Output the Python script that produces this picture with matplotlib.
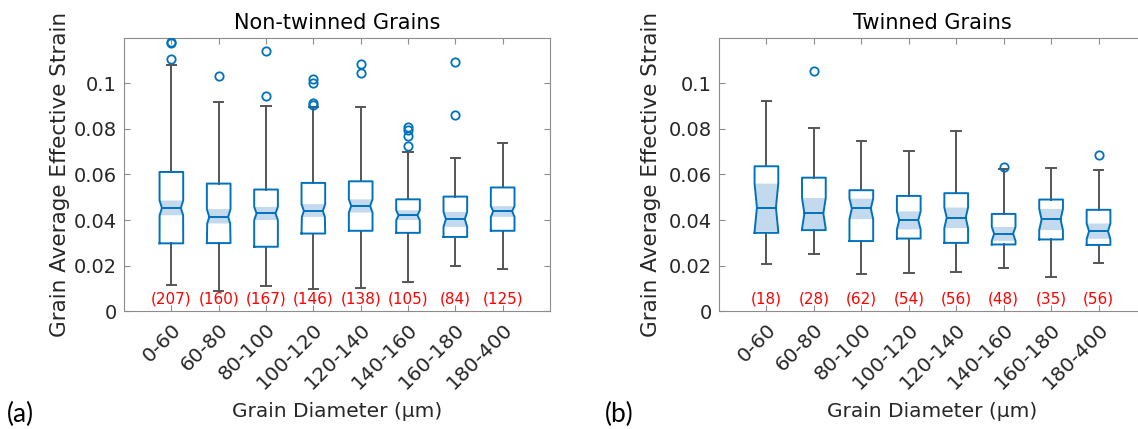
import numpy as np
import matplotlib.pyplot as plt
from matplotlib.transforms import ScaledTranslation

# grain diameter bins (um)
cats = ['0-60', '60-80', '80-100', '100-120', '120-140', '140-160', '160-180', '180-400']

# non-twinned grains: box statistics of grain average effective strain
nt_q1 = [0.0298, 0.0299, 0.0283, 0.0341, 0.0353, 0.0344, 0.0326, 0.0353]
nt_med = [0.0453, 0.0414, 0.0429, 0.0440, 0.0462, 0.0421, 0.0404, 0.0439]
nt_q3 = [0.0611, 0.0560, 0.0534, 0.0563, 0.0570, 0.0491, 0.0503, 0.0543]
nt_cilo = [0.0421, 0.0385, 0.0400, 0.0414, 0.0433, 0.0400, 0.0370, 0.0414]
nt_cihi = [0.0486, 0.0448, 0.0458, 0.0470, 0.0491, 0.0443, 0.0436, 0.0461]
nt_lo = [0.0115, 0.0090, 0.0109, 0.0099, 0.0102, 0.0127, 0.0200, 0.0184]
nt_hi = [0.1081, 0.0917, 0.0901, 0.0895, 0.0897, 0.0698, 0.0672, 0.0740]
nt_out = [[0.1183, 0.1177, 0.1105], [0.1034], [0.1143, 0.0943],
          [0.1020, 0.1003, 0.0915, 0.0904], [0.1083, 0.1047],
          [0.0810, 0.0793, 0.0770, 0.0723], [0.1095, 0.0862], []]
nt_n = [207, 160, 167, 146, 138, 105, 84, 125]

# twinned grains
tw_q1 = [0.0344, 0.0356, 0.0308, 0.0319, 0.0300, 0.0293, 0.0315, 0.0291]
tw_med = [0.0455, 0.0429, 0.0451, 0.0400, 0.0411, 0.0340, 0.0403, 0.0351]
tw_q3 = [0.0636, 0.0586, 0.0531, 0.0506, 0.0518, 0.0427, 0.0490, 0.0445]
tw_cilo = [0.0350, 0.0361, 0.0404, 0.0359, 0.0365, 0.0309, 0.0356, 0.0318]
tw_cihi = [0.0560, 0.0497, 0.0494, 0.0438, 0.0455, 0.0370, 0.0449, 0.0385]
tw_lo = [0.0207, 0.0252, 0.0163, 0.0169, 0.0173, 0.0188, 0.0149, 0.0213]
tw_hi = [0.0922, 0.0805, 0.0748, 0.0705, 0.0790, 0.0623, 0.0627, 0.0620]
tw_out = [[], [0.1053], [], [], [], [0.0634], [], [0.0684]]
tw_n = [18, 28, 62, 54, 56, 48, 35, 56]

blue = '#0072BD'
shade = '#C3DAEE'
grey = '#555555'
frame = '#8C8C8C'
txt = '#262626'

plt.rcParams['font.family'] = ['DejaVu Sans']


def notched_box(ax, x, q1, med, q3, cilo, cihi, w=0.5, dent=0.1):
    half = w / 2
    ci = cihi - med

    def hw(y):
        return half - dent * w * max(0.0, 1 - abs(y - med) / ci)

    lo = max(cilo, q1)
    hi = min(cihi, q3)
    # light band over the notch
    ys = [lo, med, hi]
    xs = [x - hw(y) for y in ys] + [x + hw(y) for y in ys[::-1]]
    ax.fill(xs, ys + ys[::-1], color=shade, lw=0, zorder=2)
    # box outline
    ys = [q1, lo, med, hi, q3]
    xs = [x - hw(y) for y in ys] + [x + hw(y) for y in ys[::-1]]
    ax.plot(xs + [xs[0]], ys + ys[::-1] + [ys[0]], color=blue, lw=1.4, zorder=3)
    ax.plot([x - hw(med), x + hw(med)], [med, med], color=blue, lw=1.4, zorder=3)


def panel(ax, title, q1, med, q3, cilo, cihi, lo, hi, out, n):
    pos = np.arange(1, len(cats) + 1)
    for i, x in enumerate(pos):
        ax.plot([x, x], [q3[i], hi[i]], color=grey, lw=1.4, zorder=1)
        ax.plot([x, x], [lo[i], q1[i]], color=grey, lw=1.4, zorder=1)
        ax.plot([x - 0.1, x + 0.1], [hi[i], hi[i]], color=grey, lw=1.4, zorder=1)
        ax.plot([x - 0.1, x + 0.1], [lo[i], lo[i]], color=grey, lw=1.4, zorder=1)
        notched_box(ax, x, q1[i], med[i], q3[i], cilo[i], cihi[i])
        if out[i]:
            ax.plot([x] * len(out[i]), out[i], 'o', mfc='none', mec=blue,
                    ms=6, mew=1.3, zorder=4)
        ax.text(x, 0.0052, '(%d)' % n[i], color='red', fontsize=11,
                ha='center', va='center')
    ax.set_xlim(0, 9)
    ax.set_ylim(0, 0.12)
    ax.set_xticks(pos)
    ax.set_xticklabels(cats, rotation=45, ha='right', va='top',
                       rotation_mode='anchor', fontsize=14.5)
    # nudge the slanted labels right and down
    shift = ScaledTranslation(0.12, -0.05, fig.dpi_scale_trans)
    for lab in ax.get_xticklabels():
        lab.set_transform(lab.get_transform() + shift)
    ax.set_yticks([0, 0.02, 0.04, 0.06, 0.08, 0.1])
    ax.set_yticklabels(['0', '0.02', '0.04', '0.06', '0.08', '0.1'], fontsize=14)
    ax.tick_params(direction='in', length=4, top=True, right=True,
                   color=frame, labelcolor=txt)
    ax.tick_params(axis='x', pad=6)
    ax.tick_params(axis='y', pad=5)
    for s in ax.spines.values():
        s.set_color(frame)
    ax.set_title(title, fontsize=15, pad=6)
    ax.set_ylabel('Grain Average Effective Strain', fontsize=15.5, color=txt)
    ax.set_xlabel('Grain Diameter (\u00b5m)', fontsize=14.5, color=txt)
    ax.yaxis.label.set_va('center')
    ax.xaxis.label.set_va('center')


fig = plt.figure(figsize=(11.38, 4.29), dpi=100)
ax1 = fig.add_axes([0.1090, 0.2744, 0.3743, 0.6378])
ax2 = fig.add_axes([0.6318, 0.2744, 0.3752, 0.6378])

panel(ax1, 'Non-twinned Grains', nt_q1, nt_med, nt_q3, nt_cilo, nt_cihi,
      nt_lo, nt_hi, nt_out, nt_n)
panel(ax2, 'Twinned Grains', tw_q1, tw_med, tw_q3, tw_cilo, tw_cihi,
      tw_lo, tw_hi, tw_out, tw_n)

ax1.yaxis.set_label_coords(-0.150, 0.5)
ax1.xaxis.set_label_coords(0.5, -0.368)
ax2.yaxis.set_label_coords(-0.159, 0.5)
ax2.xaxis.set_label_coords(0.5, -0.368)

fig.text(0.018, 0.035, '(a)', fontsize=19, family='Lato', ha='center', va='center')
fig.text(0.544, 0.033, '(b)', fontsize=19, family='Lato', ha='center', va='center')

fig.savefig('out.png', dpi=100)
